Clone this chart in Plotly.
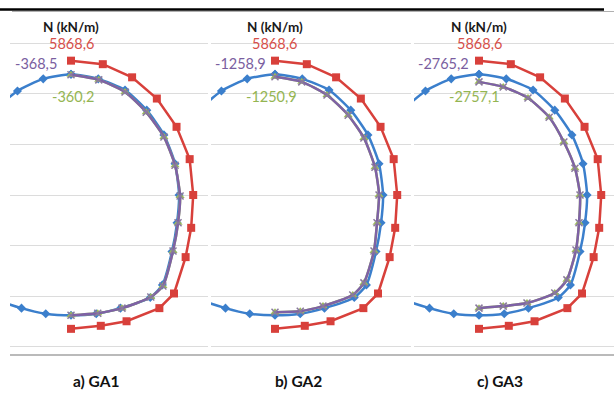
import plotly.graph_objects as go

# ---- data (grid units; x = horizontal offset from tunnel axis, y = offset from springline) ----
# Tunnel lining geometry (blue) - closed loop starting at crown, clockwise
lining_x = [0, 0.54, 1.07, 1.50, 1.84, 2.06, 2.14, 2.10, 2.00, 1.81, 1.57, 0.98, 0.50, 0,
            -0.50, -0.98, -1.57, -1.81, -2.00, -2.10, -2.14, -2.06, -1.84, -1.50, -1.06, -0.55, 0]
lining_y = [2.39, 2.30, 2.08, 1.68, 1.19, 0.62, 0.00, -0.55, -1.12, -1.78, -2.03, -2.24, -2.35, -2.38,
            -2.35, -2.24, -2.03, -1.78, -1.12, -0.55, 0.00, 0.62, 1.19, 1.68, 2.06, 2.30, 2.39]

# Red N diagram (same in all three panels)
red_x = [0, 0.63, 1.21, 1.70, 2.09, 2.35, 2.42, 2.38, 2.27, 2.04, 1.75, 1.10, 0.59, 0]
red_y = [2.66, 2.59, 2.33, 1.91, 1.35, 0.71, 0.00, -0.65, -1.23, -1.95, -2.24, -2.50, -2.59, -2.65]

# Purple / green N diagrams per panel
purple_x = [
    [0, 0.55, 1.07, 1.49, 1.84, 2.06, 2.16, 2.12, 2.02, 1.82, 1.58, 1.01, 0.53, 0],
    [0, 0.53, 1.03, 1.45, 1.76, 1.98, 2.06, 2.02, 1.96, 1.76, 1.54, 0.95, 0.50, 0],
    [0, 0.48, 0.97, 1.39, 1.68, 1.90, 2.00, 1.98, 1.92, 1.74, 1.50, 0.95, 0.48, 0],
]
purple_y = [
    [2.38, 2.28, 2.04, 1.64, 1.15, 0.59, -0.02, -0.55, -1.11, -1.80, -2.02, -2.24, -2.34, -2.38],
    [2.34, 2.24, 1.98, 1.58, 1.13, 0.55, 0.00, -0.55, -1.11, -1.74, -1.98, -2.20, -2.30, -2.32],
    [2.24, 2.14, 1.92, 1.54, 1.05, 0.53, 0.00, -0.55, -1.09, -1.68, -1.94, -2.14, -2.20, -2.24],
]
green_x = [
    [0, 0.55, 1.07, 1.49, 1.84, 2.06, 2.16, 2.12, 2.02, 1.82, 1.58, 1.01, 0.53, 0],
    [0, 0.53, 1.03, 1.45, 1.76, 1.98, 2.06, 2.02, 1.96, 1.76, 1.54, 0.95, 0.50, 0],
    [0, 0.48, 0.97, 1.39, 1.68, 1.90, 2.00, 1.98, 1.92, 1.74, 1.50, 0.95, 0.48, 0],
]
green_y = [
    [2.38, 2.28, 2.04, 1.64, 1.15, 0.59, -0.02, -0.55, -1.11, -1.80, -2.02, -2.24, -2.34, -2.38],
    [2.34, 2.24, 1.98, 1.58, 1.13, 0.55, 0.00, -0.55, -1.11, -1.74, -1.98, -2.20, -2.30, -2.32],
    [2.24, 2.14, 1.92, 1.54, 1.05, 0.53, 0.00, -0.55, -1.09, -1.68, -1.94, -2.14, -2.20, -2.24],
]

red_labels = ["5868,6", "5868,6", "5868,6"]
purple_labels = ["-368,5", "-1258,9", "-2765,2"]
green_labels = ["-360,2", "-1250,9", "-2757,1"]
captions = ["a) GA1", "b) GA2", "c) GA3"]
grid_vals = [-3, -2, -1, 0, 1, 2, 3]

# ---- styling ----
W, H = 614, 405
BLUE = "#3b7fcc"
RED = "#d8403b"
PURPLE = "#7e61a6"
GREEN = "#9bbb59"
GRID = "#dcdcdc"

domains_px = [(10, 208), (211, 411), (414, 614)]
xranges = [(-1.208, 2.713), (-1.267, 2.693), (-1.287, 2.673)]
yrange = (3.861, -4.158)  # top, bottom of paper

fig = go.Figure()
for i in range(3):
    xa = "x" if i == 0 else f"x{i+1}"
    fig.add_trace(go.Scatter(x=lining_x, y=lining_y, xaxis=xa, yaxis="y", mode="lines+markers",
                             line=dict(color=BLUE, width=2.5, shape="spline", smoothing=0.6),
                             marker=dict(symbol="diamond", size=7, color=BLUE),
                             showlegend=False, hoverinfo="skip"))
    fig.add_trace(go.Scatter(x=red_x, y=red_y, xaxis=xa, yaxis="y", mode="lines+markers",
                             line=dict(color=RED, width=2.5),
                             marker=dict(symbol="square", size=8, color=RED),
                             showlegend=False, hoverinfo="skip"))
    fig.add_trace(go.Scatter(x=green_x[i], y=green_y[i], xaxis=xa, yaxis="y", mode="lines+markers",
                             line=dict(color=GREEN, width=2.5, shape="spline", smoothing=0.6),
                             marker=dict(symbol="triangle-up", size=8, color=GREEN),
                             showlegend=False, hoverinfo="skip"))
    fig.add_trace(go.Scatter(x=purple_x[i], y=purple_y[i], xaxis=xa, yaxis="y", mode="lines+markers",
                             line=dict(color=PURPLE, width=2.5, shape="spline", smoothing=0.6),
                             marker=dict(symbol="x-thin", size=7, color="#8a7a9e",
                                         line=dict(width=1.5, color="#8a7a9e")),
                             showlegend=False, hoverinfo="skip"))

layout = dict(
    width=W, height=H, margin=dict(l=0, r=0, t=0, b=0),
    paper_bgcolor="white", plot_bgcolor="white", showlegend=False,
    yaxis=dict(domain=[0, 1], range=[yrange[1], yrange[0]], tickvals=grid_vals, showgrid=True,
               gridcolor=GRID, gridwidth=1, zeroline=False, showticklabels=False,
               showline=False, ticks="", fixedrange=True, anchor="x"),
)
for i in range(3):
    key = "xaxis" if i == 0 else f"xaxis{i+1}"
    d0, d1 = domains_px[i]
    layout[key] = dict(domain=[d0 / W, d1 / W], range=list(xranges[i]), visible=False,
                       showgrid=False, zeroline=False, fixedrange=True, anchor="y")
fig.update_layout(**layout)


def py2y(py):
    return (195 - py) / 50.5


annotations = []
label_font = "Lato, 'Open Sans', sans-serif"
purple_dx = [-0.69, -0.69, -0.71]
green_dx = [0.04, -0.06, -0.08]
for i in range(3):
    xa = "x" if i == 0 else f"x{i+1}"
    annotations.append(dict(x=0.0, y=py2y(27), xref=xa, yref="y", text="<b>N (kN/m)</b>",
                            xanchor="center", yanchor="middle",
                            showarrow=False, font=dict(family=label_font, size=13.5, color="#1a1a1a")))
    annotations.append(dict(x=0.0, y=py2y(44), xref=xa, yref="y", text=red_labels[i],
                            xanchor="center", yanchor="middle",
                            showarrow=False, font=dict(family=label_font, size=14.5, color="#d64f4a")))
    annotations.append(dict(x=purple_dx[i], y=py2y(64), xref=xa, yref="y", text=purple_labels[i],
                            xanchor="center", yanchor="middle",
                            showarrow=False, font=dict(family=label_font, size=14.5, color="#7a5ea0")))
    annotations.append(dict(x=green_dx[i], y=py2y(97), xref=xa, yref="y", text=green_labels[i],
                            xanchor="center", yanchor="middle",
                            showarrow=False, font=dict(family=label_font, size=14.5, color="#94b552")))
cap_px = [97, 298.5, 500]
for i in range(3):
    annotations.append(dict(x=cap_px[i] / W, y=1 - 381 / H, xref="paper", yref="paper",
                            xanchor="center", yanchor="middle",
                            text=f"<b>{captions[i]}</b>", showarrow=False,
                            font=dict(family=label_font, size=15.5, color="#111111")))
fig.update_layout(annotations=annotations)

shapes = [
    # bottom axis line
    dict(type="line", xref="paper", yref="paper", x0=10 / W, x1=1, y0=1 - 355 / H, y1=1 - 355 / H,
         line=dict(color="#a3a3a3", width=1.5)),
    # top rule lines
    dict(type="line", xref="paper", yref="paper", x0=12 / W, x1=1, y0=1 - 11.5 / H, y1=1 - 11.5 / H,
         line=dict(color="#b0b0b0", width=1)),
    dict(type="line", xref="paper", yref="paper", x0=0, x1=604 / W, y0=1 - 9.5 / H, y1=1 - 9.5 / H,
         line=dict(color="#000000", width=2.5)),
]
fig.update_layout(shapes=shapes)

fig.write_html("out.html", config={"displayModeBar": False},
               post_script="document.body.style.margin='0';")
